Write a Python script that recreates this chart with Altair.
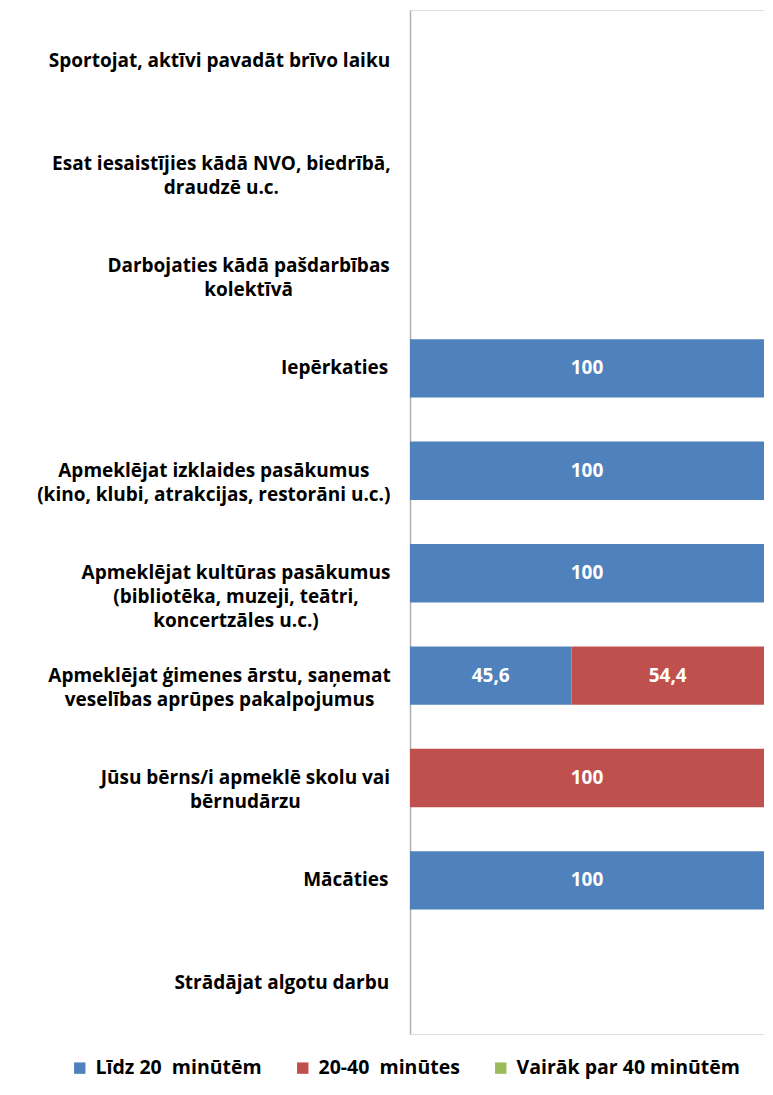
import json
import unicodedata
import altair as alt
import pandas as pd

categories = [
    "Sportojat, aktīvi pavadāt brīvo laiku",
    "Esat iesaistījies kādā NVO, biedrībā,\ndraudzē u.c.",
    "Darbojaties kādā pašdarbības\nkolektīvā",
    "Iepērkaties",
    "Apmeklējat izklaides pasākumus\n(kino, klubi, atrakcijas, restorāni u.c.)",
    "Apmeklējat kultūras pasākumus\n(bibliotēka, muzeji, teātri,\nkoncertzāles u.c.)",
    "Apmeklējat ģimenes ārstu, saņemat\nveselības aprūpes pakalpojumus",
    "Jūsu bērns/i apmeklē skolu vai\nbērnudārzu",
    "Mācāties",
    "Strādājat algotu darbu",
]
series = ["Līdz 20\u00a0 minūtēm", "20-40\u00a0 minūtes", "Vairāk par 40 minūtēm"]
colors = ["#4F81BD", "#C0504D", "#9BBB59"]

lidz_20 = [None, None, None, 100, 100, 100, 45.6, None, 100, None]
no_20_40 = [None, None, None, None, None, None, 54.4, 100, None, None]
virs_40 = [None, None, None, None, None, None, None, None, None, None]

rows = []
for s_idx, vals in enumerate([lidz_20, no_20_40, virs_40]):
    for c, v in zip(categories, vals):
        if v is not None:
            rows.append({"cat": c, "series": series[s_idx], "ord": s_idx, "value": v})
df = pd.DataFrame(rows)

FONT = "Open Sans"
FS = 19

# rough Open Sans Bold advance widths (units of 1/2048 em) used to
# centre the lines of a wrapped label inside a right-aligned block
_W = {" ": 532, ",": 539, ".": 586, "(": 694, ")": 694, "/": 752,
      "a": 1208, "b": 1282, "c": 1051, "d": 1282, "e": 1200, "f": 821, "g": 1135,
      "h": 1311, "i": 625, "j": 625, "k": 1239, "l": 625, "m": 1942, "n": 1311,
      "o": 1251, "p": 1282, "r": 920, "s": 1010, "t": 870, "u": 1311, "v": 1147,
      "z": 967, "A": 1399, "D": 1436, "E": 1087, "I": 659, "J": 659, "M": 1812,
      "N": 1536, "O": 1561, "S": 1124, "V": 1335}


def text_width(s):
    tot = 0
    for ch in s:
        base = unicodedata.normalize("NFD", ch)[0]
        tot += _W.get(base, 1180)
    return tot / 2048 * FS


GAP = 23
pads = [GAP + max(text_width(l) for l in c.split("\n")) / 2 for c in categories]
pad_expr = "{}[indexof({}, datum.value)]".format(
    json.dumps([round(p, 1) for p in pads]), json.dumps(categories, ensure_ascii=False)
)

base = alt.Chart(df).transform_stack(
    stack="value", groupby=["cat"], as_=["x0", "x1"],
    sort=[alt.SortField("ord", order="ascending")]
).transform_calculate(
    mid="(datum.x0 + datum.x1) / 2",
    lbl="datum.value == round(datum.value) ? format(datum.value, 'd') : replace(format(datum.value, '.1f'), '.', ',')"
)

y_enc = alt.Y(
    "cat:N",
    sort=categories,
    scale=alt.Scale(domain=categories, paddingInner=0.43, paddingOuter=0.215),
    axis=alt.Axis(
        title=None,
        ticks=False,
        tickSize=0,
        grid=False,
        domain=True,
        domainColor="#B0B0B0",
        domainWidth=1.5,
        labelExpr="split(datum.label, '\\n')",
        labelFont=FONT,
        labelFontSize=FS,
        labelFontWeight="bold",
        labelColor="#000000",
        labelAlign="center",
        labelLineHeight=24,
        labelLimit=400,
        labelPadding=alt.ExprRef(pad_expr),
        minExtent=402,
        maxExtent=402,
    ),
)

bars = base.mark_bar().encode(
    y=y_enc,
    x=alt.X("x0:Q", scale=alt.Scale(domain=[0, 100], nice=False), axis=None),
    x2="x1:Q",
    color=alt.Color(
        "series:N",
        scale=alt.Scale(domain=series, range=colors),
        legend=alt.Legend(
            title=None,
            orient="none",
            direction="horizontal",
            legendX=-340,
            legendY=1048,
            symbolType="square",
            symbolSize=130,
            symbolStrokeWidth=0,
            symbolOpacity=1,
            labelFont=FONT,
            labelFontSize=19.5,
            labelFontWeight="bold",
            labelColor="#000000",
            labelLimit=400,
            columnPadding=31,
            labelOffset=6,
        ),
    ),
)

labels = base.mark_text(
    color="white", font=FONT, fontSize=19, fontWeight="bold", baseline="middle", align="center"
).encode(
    y=alt.Y("cat:N", sort=categories),
    x=alt.X("mid:Q"),
    text="lbl:N",
)

chart = alt.layer(bars, labels).properties(
    width=354,
    height=1024,
    padding={"left": 0, "top": 2, "right": 0, "bottom": 6},
).configure_view(stroke=None).configure(font=FONT)

chart.save("out.html", embed_options={"renderer": "svg", "actions": False})
